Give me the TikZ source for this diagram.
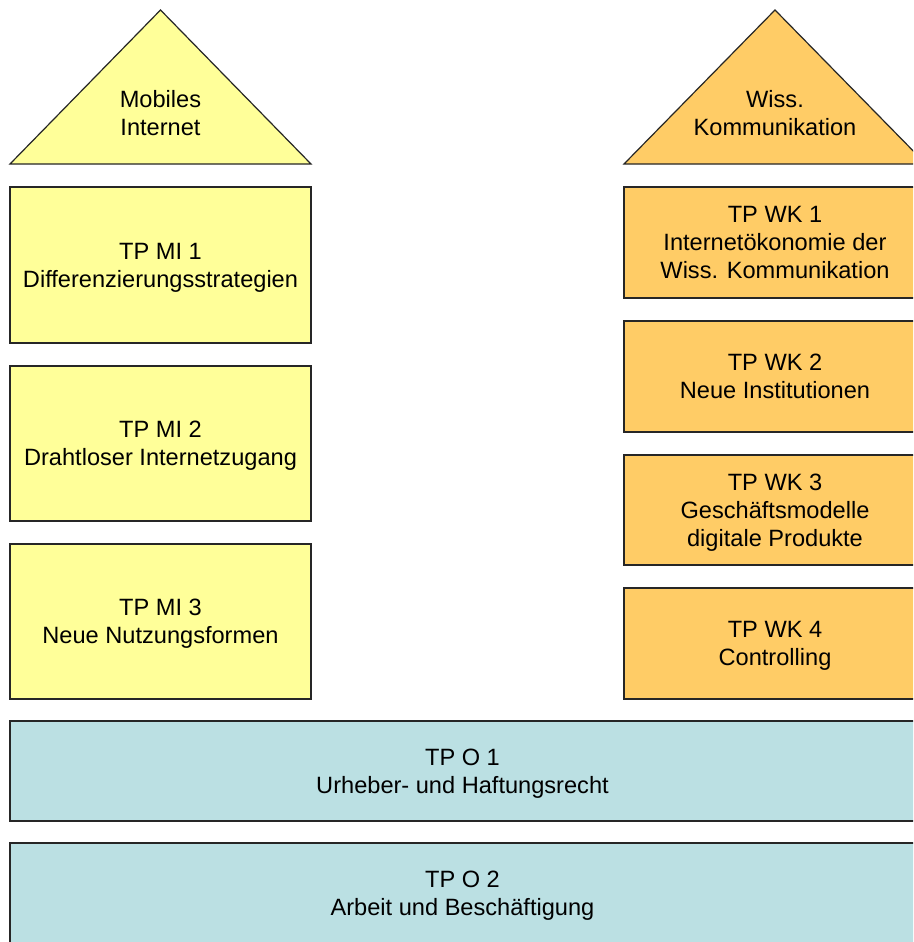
\documentclass[tikz,border=0pt]{standalone}
\usepackage{fontspec}
\setmainfont{Liberation Sans}
\definecolor{yel}{HTML}{FFFF99}
\definecolor{ora}{HTML}{FFCC66}
\definecolor{blu}{HTML}{BBE0E3}
\begin{document}
\begin{tikzpicture}[x=1pt,y=-1pt,
  every node/.style={font=\fontsize{23.6}{28.2}\selectfont, align=center, inner sep=0pt, text depth=0pt},
  box/.style={draw=black!85, line width=1.2pt, rectangle, outer sep=0pt},
  tri/.style={draw=black!85, line width=1.2pt, line join=miter}]
\clip (0,0) rectangle (913,942);
\fill[white] (0,0) rectangle (913,942);
% triangles
\draw[tri, fill=yel] (10,164) -- (160.5,10) -- (311,164) -- cycle;
\node (mobil) at (160.5,113) {Mobiles\\Internet};
\draw[tri, fill=ora] (624,164) -- (775,10) -- (926,164) -- cycle;
\node (wiss) at (775,113) {Wiss.\\Kommunikation};
% left column
\node[box, fill=yel, minimum width=301pt, minimum height=156pt] (mi1) at (160.5,265) {TP MI 1\\Differenzierungsstrategien};
\node[box, fill=yel, minimum width=301pt, minimum height=155pt] (mi2) at (160.5,443.5) {TP MI 2\\Drahtloser Internetzugang};
\node[box, fill=yel, minimum width=301pt, minimum height=155pt] (mi3) at (160.5,621.5) {TP MI 3\\Neue Nutzungsformen};
% right column
\node[box, fill=ora, minimum width=302pt, minimum height=111pt] (wk1) at (775,242.5) {TP WK 1\\Internetökonomie der\\Wiss. Kommunikation};
\node[box, fill=ora, minimum width=302pt, minimum height=111pt] (wk2) at (775,376.5) {TP WK 2\\Neue Institutionen};
\node[box, fill=ora, minimum width=302pt, minimum height=110pt] (wk3) at (775,510) {TP WK 3\\Geschäftsmodelle\\digitale Produkte};
\node[box, fill=ora, minimum width=302pt, minimum height=111pt] (wk4) at (775,643.5) {TP WK 4\\Controlling};
% bottom
\node[box, fill=blu, minimum width=905pt, minimum height=100pt] (o1) at (462.5,771) {TP O 1\\Urheber- und Haftungsrecht};
\node[box, fill=blu, minimum width=905pt, minimum height=101pt] (o2) at (462.5,893.5) {TP O 2\\Arbeit und Beschäftigung};
\end{tikzpicture}
\end{document}
